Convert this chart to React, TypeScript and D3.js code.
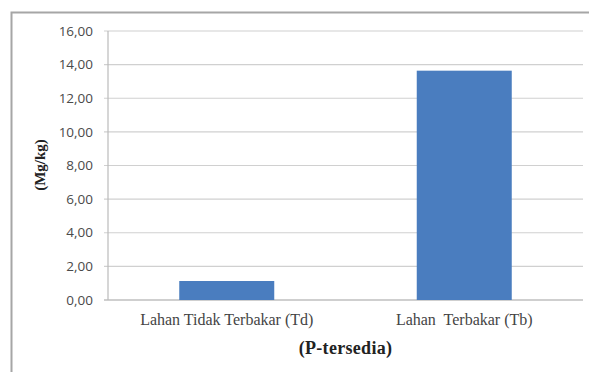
import React from "react";
import * as d3 from "d3";

const categories = ["Lahan Tidak Terbakar (Td)", "Lahan  Terbakar (Tb)"];
const values = [1.13, 13.64];
const yTicks = [0, 2, 4, 6, 8, 10, 12, 14, 16];
const yTitle = "(Mg/kg)";
const xTitle = "(P-tersedia)";

const serif = "'Liberation Serif', 'Times New Roman', 'DejaVu Serif', serif";

export default function App() {
  const W = 589, H = 372;
  const left = 108, right = 583, top = 31, bottom = 300;
  const x = d3.scaleBand<string>().domain(categories).range([left, right]).paddingInner(0.6).paddingOuter(0.3);
  const y = d3.scaleLinear().domain([0, 16]).range([bottom, top]);
  const fmt = (v: number) => v.toFixed(2).replace(".", ",");
  return (
    <svg width={W} height={H} style={{ position: "absolute", left: 0, top: 0, background: "#fff" }}>
      <rect x={11.5} y={12.5} width={W + 10} height={H + 10} fill="#fff" stroke="#a6a6a6" strokeWidth={2} />
      {yTicks.map((t) => (
        <g key={t}>
          <line x1={104} x2={right} y1={y(t)} y2={y(t)} stroke={t === 0 ? "#a0a0a0" : "#d0d0d0"} strokeWidth={1.2} />
          <text x={93} y={y(t)} dy="0.35em" textAnchor="end" style={{ fontFamily: "'Open Sans', sans-serif", fontSize: "13.5px" }} fill="#4a4a4a">
            {fmt(t)}
          </text>
        </g>
      ))}
      <line x1={left} x2={left} y1={top} y2={bottom} stroke="#bbb" strokeWidth={1.2} />
      {categories.map((c, i) => (
        <rect key={c} x={x(c)} y={y(values[i])} width={x.bandwidth()} height={bottom - y(values[i])} fill="#4a7dbf" />
      ))}
      {categories.map((c) => (
        <text key={c} x={(x(c) as number) + x.bandwidth() / 2} y={325} textAnchor="middle" style={{ fontFamily: serif, fontSize: "16px", whiteSpace: "pre" }} fill="#444">
          {c}
        </text>
      ))}
      <text x={(left + right) / 2} y={354} textAnchor="middle" style={{ fontFamily: serif, fontWeight: "bold", fontSize: "18px", letterSpacing: "0.3px" }} fill="#222">
        {xTitle}
      </text>
      <text transform={`translate(45,165) rotate(-90)`} textAnchor="middle" style={{ fontFamily: serif, fontWeight: "bold", fontSize: "15px" }} fill="#222">
        {yTitle}
      </text>
    </svg>
  );
}
